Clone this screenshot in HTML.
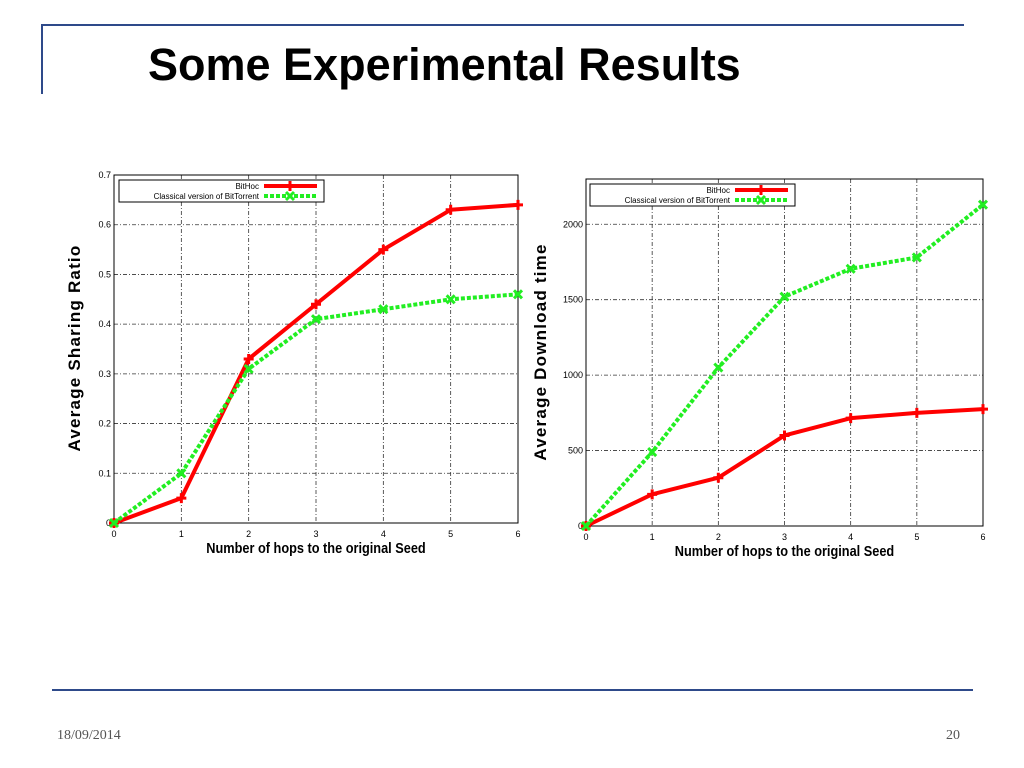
<!DOCTYPE html>
<html><head><meta charset="utf-8"><style>
body{margin:0;width:1024px;height:768px;background:#fff;overflow:hidden;position:relative;font-family:"Liberation Sans",sans-serif}
.abs{position:absolute}
</style></head><body>
<div class="abs" style="left:42px;top:24px;width:922px;height:2px;background:#2e4a8a"></div>
<div class="abs" style="left:41px;top:24px;width:2px;height:70px;background:#2e4a8a"></div>
<div class="abs" style="left:148px;top:39px;font-size:45px;font-weight:bold;color:#000">Some Experimental Results</div>
<div class="abs" style="left:52px;top:689px;width:921px;height:2px;background:#2e4a8a"></div>
<div class="abs" style="left:57px;top:728px;font-family:'Liberation Serif',serif;font-size:14px;color:#555">18/09/2014</div>
<div class="abs" style="left:946px;top:728px;font-family:'Liberation Serif',serif;font-size:14px;color:#555">20</div>
<svg class="abs" style="left:0;top:0" width="1024" height="768" id="svg"></svg>
<script>
const xCats=[0,1,2,3,4,5,6];
const leftBitHoc=[0,0.05,0.33,0.44,0.55,0.63,0.64];
const leftClassic=[0,0.1,0.31,0.41,0.43,0.45,0.46];
const leftTicks=[0,0.1,0.2,0.3,0.4,0.5,0.6,0.7];
const rightBitHoc=[0,210,320,600,715,750,775];
const rightClassic=[0,490,1050,1520,1705,1780,2130];
const rightTicks=[0,500,1000,1500,2000];
const NS="http://www.w3.org/2000/svg";
const svg=document.getElementById('svg');
function mk(t,a,p){const e=document.createElementNS(NS,t);for(const k in a)e.setAttribute(k,a[k]);(p||svg).appendChild(e);return e;}
function chart(c){
 const g=mk('g',{});
 
 
 const sx=v=>c.x0+(v-0)/6*(c.x1-c.x0);
 const sy=v=>c.y0-v/c.ymax*(c.y0-c.y1);
 xCats.forEach(v=>{
  if(v>0&&v<6){const l=mk('line',{x1:sx(v),x2:sx(v),y1:c.y1,y2:c.y0,stroke:'#333','stroke-width':0.8,'stroke-dasharray':'4,2,1,2'},g);}
  const t=mk('text',{x:sx(v),y:c.y0+14,'font-size':9,'text-anchor':'middle'},g);t.textContent=v;
  
 });
 c.ticks.forEach(v=>{
  if(v>0&&v<c.ymax){const l=mk('line',{x1:c.x0,x2:c.x1,y1:sy(v),y2:sy(v),stroke:'#333','stroke-width':0.8,'stroke-dasharray':'4,2,1,2'},g);}
  const t=mk('text',{x:c.x0-3,y:sy(v)+3,'font-size':9,'text-anchor':'end'},g);t.textContent=v;
  
 });
 const fr=mk('rect',{x:c.x0,y:c.y1,width:c.x1-c.x0,height:c.y0-c.y1,fill:'none',stroke:'#000','stroke-width':1},g);
 
 const series=[[c.a,'#f00','none','bithoc-line'],[c.b,'#22ee22','4,2','classical-line']];
 series.forEach(([d,col,dash,nm])=>{
  const p=mk('polyline',{points:d.map((v,i)=>sx(xCats[i])+','+sy(v)).join(' '),fill:'none',stroke:col,'stroke-width':4,'stroke-dasharray':dash,'stroke-linejoin':'round'},g);
  
  d.forEach((v,i)=>{const x=sx(xCats[i]),y=sy(v);
   const m=mk('path',{d:nm[0]=='b'?`M${x-5},${y}H${x+5}M${x},${y-5}V${y+5}`:`M${x-4},${y-4}L${x+4},${y+4}M${x-4},${y+4}L${x+4},${y-4}`,stroke:col,'stroke-width':3},g);
   });
 });
 const lg=mk('g',{},g);
 mk('rect',{x:c.lx,y:c.ly,width:205,height:22,fill:'#fff',stroke:'#000','stroke-width':1},lg);
 const t1=mk('text',{x:c.lx+140,y:c.ly+9,'font-size':8,'text-anchor':'end'},lg);t1.textContent='BitHoc';
 const t2=mk('text',{x:c.lx+140,y:c.ly+19,'font-size':8,'text-anchor':'end'},lg);t2.textContent='Classical version of BitTorrent';
 mk('line',{x1:c.lx+145,x2:c.lx+198,y1:c.ly+6,y2:c.ly+6,stroke:'#f00','stroke-width':4},lg);
 mk('path',{d:`M${c.lx+166},${c.ly+6}h10M${c.lx+171},${c.ly+1}v10`,stroke:'#f00','stroke-width':3},lg);
 mk('line',{x1:c.lx+145,x2:c.lx+198,y1:c.ly+16,y2:c.ly+16,stroke:'#22ee22','stroke-width':4,'stroke-dasharray':'4,2'},lg);
 mk('path',{d:`M${c.lx+167},${c.ly+12}l8,8M${c.lx+167},${c.ly+20}l8,-8`,stroke:'#22ee22','stroke-width':3},lg);
 const cx=(c.x0+c.x1)/2, cy=c.y0+30;
 const xt=mk('text',{x:cx,y:cy,'font-size':15,'font-weight':'bold','text-anchor':'middle',transform:`translate(${cx},${cy}) scale(0.85,1) translate(${-cx},${-cy})`},g);
 xt.textContent='Number of hops to the original Seed';
 const yt=mk('text',{x:0,y:0,'font-size':17,'font-weight':'bold','letter-spacing':'1.2','text-anchor':'middle',transform:`translate(${c.ytx},${c.tcy}) rotate(-90)`},g);
 yt.textContent=c.ytitle;
}
chart({name:'sharing-ratio-chart',x0:114,x1:518,y0:523,y1:175,ymax:0.7,ticks:leftTicks,a:leftBitHoc,b:leftClassic,lx:119,ly:180,ytitle:'Average Sharing Ratio',ytx:80,tcy:348});
chart({name:'download-time-chart',x0:586,x1:983,y0:526,y1:179,ymax:2300,ticks:rightTicks,a:rightBitHoc,b:rightClassic,lx:590,ly:184,ytitle:'Average Download time',ytx:546,tcy:352});
</script>
</body></html>
